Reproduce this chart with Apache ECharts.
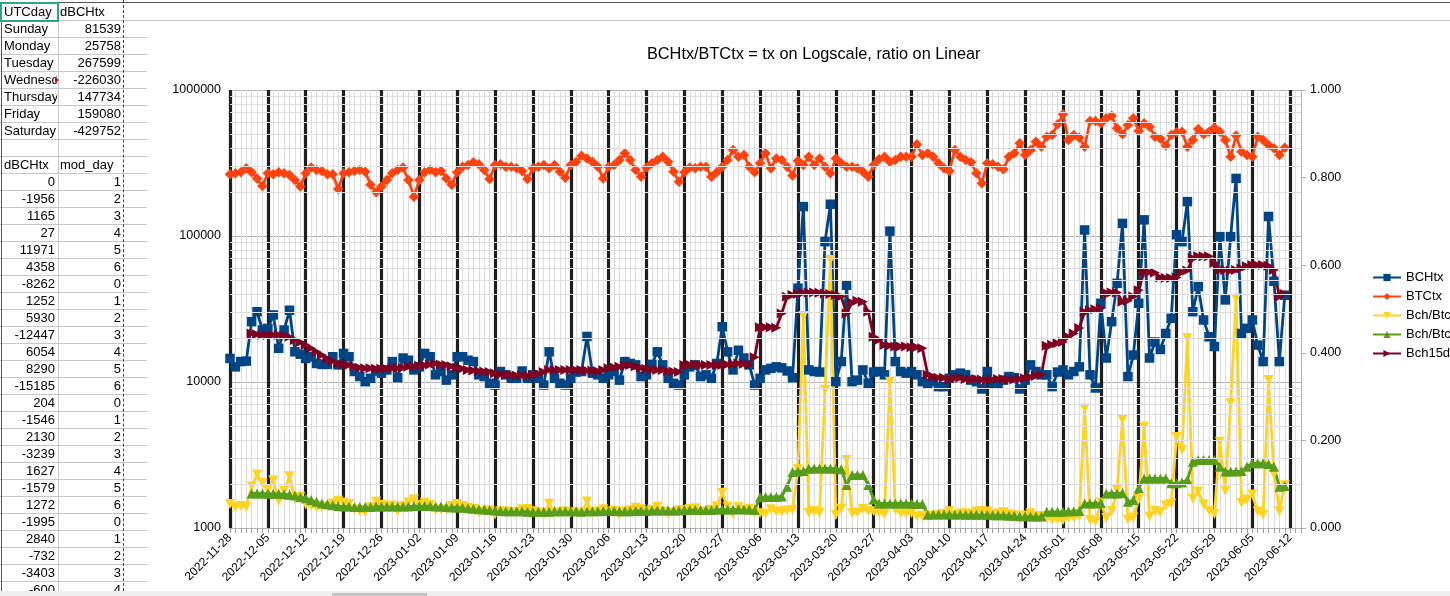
<!DOCTYPE html>
<html><head><meta charset="utf-8">
<script src="https://cdn.jsdelivr.net/npm/echarts@6/dist/echarts.min.js"></script>
<style>
html,body{margin:0;padding:0;background:#fff;width:1450px;height:596px;overflow:hidden;font-family:"Liberation Sans",Arial,sans-serif;}
#chart{position:absolute;left:0;top:0;width:1450px;height:596px;z-index:1;}
#sheet{position:absolute;left:0;top:0;width:1450px;height:596px;z-index:2;pointer-events:none;}
</style>
</head><body>
<div id="chart"></div>
<div id="sheet"></div>
<script>
// ---------- spreadsheet data ----------
const dayNames = ['Sunday','Monday','Tuesday','Wednesday','Thursday','Friday','Saturday'];
const dayTotals = [81539, 25758, 267599, -226030, 147734, 159080, -429752];
const dBCHtxCol = [0,-1956,1165,27,11971,4358,-8262,1252,5930,-12447,6054,8290,-15185,204,-1546,2130,-3239,1627,-1579,1272,-1995,2840,-732,-3403,-600];
const modDayCol = [1,2,3,4,5,6,0,1,2,3,4,5,6,0,1,2,3,4,5,6,0,1,2,3,4];

// ---------- chart data (one value per day from 2022-11-28) ----------
const startDay = '2022-11-28';
const dayCount = 199;
const seriesNames = ['BCHtx','BTCtx','Bch/Btc ratio','Bch/Btc 7d avg','Bch15d avg'];
const bchTx = [
14500,12700,13800,13900,25900,30300,22700,
23300,28800,17000,22700,31000,16100,15500,
14500,14900,13400,13200,13200,14900,13100,
15700,14900,11800,10900,10050,10600,11900,
11500,12100,13800,10700,14600,14100,12100,
12700,15700,14900,11200,11800,10300,11200,
14900,14900,14100,13800,11200,10900,9800,
9530,11800,11200,10600,10600,11900,10600,
11200,10600,9530,16100,10600,9800,9530,
10600,11700,11800,20500,11500,11200,10600,
11200,11800,10300,13800,13400,13100,10900,
11200,13200,16100,13100,10600,9800,9530,
11200,12700,13100,10900,11200,10600,13400,
23900,16100,12100,16500,14600,13100,9530,
10600,12100,12400,12700,12500,11900,10700,
43900,159000,12100,11800,11700,91400,165000,
10050,13800,46000,10050,10300,12100,9800,
11700,11800,11200,108000,13800,11800,11500,
11800,11200,10050,9800,10050,9300,9300,
10600,11200,11500,11200,10300,10050,8950,
11800,9800,9800,10300,10900,10700,8950,
10300,13100,11800,11200,11200,9300,11700,
12100,11200,11800,12700,110000,11200,9100,
34600,14600,25900,47400,122000,10900,15300,
34600,129000,14600,18800,16700,21500,27300,
102000,91400,172000,30300,45000,26600,20400,
17500,99000,36500,99000,248000,21500,23300,
26600,17900,13800,136000,49000,13800,39300];
const btcTx = [
265000,269000,273000,291000,273000,248000,220000,
269000,265000,273000,269000,262000,242000,218000,
269000,294000,283000,279000,265000,265000,210000,
269000,273000,279000,283000,276000,224000,199000,
218000,242000,269000,283000,294000,242000,186000,
242000,273000,283000,273000,279000,248000,224000,
273000,298000,306000,320000,310000,283000,246000,
306000,310000,298000,298000,291000,279000,246000,
291000,298000,306000,291000,306000,276000,251000,
306000,323000,355000,340000,323000,298000,248000,
298000,306000,332000,369000,332000,283000,255000,
294000,315000,332000,349000,323000,276000,235000,
273000,294000,291000,298000,298000,255000,273000,
298000,332000,388000,349000,359000,298000,273000,
315000,369000,291000,340000,332000,298000,260000,
328000,306000,349000,306000,340000,298000,269000,
340000,315000,298000,298000,291000,276000,255000,
306000,336000,349000,323000,332000,349000,349000,
349000,425000,359000,369000,349000,315000,291000,
279000,388000,349000,332000,320000,269000,230000,
315000,310000,298000,287000,349000,369000,431000,
359000,388000,443000,409000,479000,492000,582000,
681000,455000,492000,471000,409000,614000,614000,
592000,640000,667000,546000,497000,576000,640000,
523000,592000,561000,479000,463000,416000,492000,
513000,518000,409000,455000,541000,497000,518000,
552000,518000,455000,349000,487000,378000,359000,
349000,479000,455000,420000,399000,359000,403000];
const ratio = [
0.0547,0.0472,0.0505,0.0478,0.0949,0.122,0.103,
0.0866,0.109,0.0623,0.0844,0.118,0.0665,0.0711,
0.0539,0.0507,0.0473,0.0473,0.0498,0.0562,0.0624,
0.0584,0.0546,0.0423,0.0385,0.0364,0.0473,0.0598,
0.0528,0.05,0.0513,0.0378,0.0497,0.0583,0.065,
0.0525,0.0575,0.0527,0.041,0.0423,0.0415,0.05,
0.0546,0.05,0.0461,0.0431,0.0361,0.0385,0.0398,
0.0311,0.0381,0.0376,0.0356,0.0364,0.0427,0.0431,
0.0385,0.0356,0.0311,0.0553,0.0346,0.0355,0.038,
0.0346,0.0362,0.0332,0.0603,0.0356,0.0376,0.0427,
0.0376,0.0386,0.031,0.0374,0.0404,0.0463,0.0427,
0.0381,0.0419,0.0485,0.0375,0.0328,0.0355,0.0406,
0.041,0.0432,0.045,0.0366,0.0376,0.0416,0.0491,
0.0802,0.0485,0.0312,0.0473,0.0407,0.044,0.0349,
0.0337,0.0328,0.0426,0.0374,0.0377,0.0399,0.0412,
0.134,0.484,0.0347,0.0386,0.0344,0.315,0.612,
0.0296,0.0438,0.155,0.0337,0.0354,0.0438,0.0384,
0.0382,0.0351,0.0321,0.334,0.0416,0.0338,0.033,
0.0338,0.0264,0.028,0.0266,0.0288,0.0295,0.032,
0.038,0.0289,0.033,0.0337,0.0322,0.0374,0.0389,
0.0375,0.0316,0.0329,0.0359,0.0312,0.029,0.0208,
0.0287,0.0338,0.0266,0.0274,0.0234,0.0189,0.0201,
0.0178,0.0246,0.024,0.027,0.273,0.0182,0.0148,
0.0584,0.0228,0.0388,0.0868,0.247,0.0189,0.0239,
0.0662,0.231,0.026,0.0392,0.0361,0.0517,0.0555,
0.208,0.178,0.433,0.0666,0.0832,0.0535,0.0394,
0.0317,0.197,0.085,0.285,0.524,0.0569,0.0649,
0.0762,0.0374,0.0303,0.338,0.123,0.0384,0.0975];
const ratioAvg = [
null,null,null,null,0.079,0.079,0.079,
0.078,0.078,0.078,0.077,0.076,0.074,0.071,
0.068,0.064,0.060,0.056,0.054,0.052,0.050,
0.049,0.049,0.048,0.048,0.048,0.048,0.049,
0.049,0.049,0.049,0.049,0.049,0.049,0.050,
0.050,0.050,0.050,0.049,0.049,0.048,0.047,
0.047,0.046,0.045,0.044,0.043,0.042,0.041,
0.040,0.039,0.038,0.038,0.038,0.038,0.037,
0.037,0.037,0.037,0.037,0.038,0.038,0.038,
0.038,0.038,0.037,0.038,0.038,0.038,0.039,
0.039,0.039,0.038,0.038,0.038,0.039,0.039,
0.039,0.040,0.040,0.040,0.040,0.040,0.040,
0.041,0.041,0.041,0.041,0.041,0.041,0.042,
0.042,0.042,0.042,0.043,0.042,0.042,0.041,
0.070,0.071,0.071,0.071,0.072,0.094,0.128,
0.129,0.130,0.135,0.136,0.136,0.136,0.136,
0.135,0.134,0.098,0.121,0.121,0.121,0.098,
0.065,0.056,0.056,0.056,0.056,0.056,0.056,
0.056,0.055,0.055,0.030,0.031,0.031,0.031,
0.031,0.031,0.031,0.030,0.030,0.030,0.030,
0.030,0.029,0.029,0.029,0.028,0.028,0.027,
0.027,0.026,0.026,0.026,0.037,0.037,0.037,
0.037,0.038,0.038,0.039,0.056,0.056,0.056,
0.057,0.079,0.079,0.079,0.080,0.060,0.064,
0.091,0.113,0.113,0.113,0.113,0.113,0.102,
0.102,0.104,0.110,0.151,0.155,0.155,0.155,
0.155,0.140,0.129,0.129,0.129,0.130,0.140,
0.148,0.148,0.148,0.146,0.140,0.094,0.096];
const bch15d = [
null,null,null,null,21500,21200,21000,
21000,21000,21000,20700,20400,19400,18700,
17900,17000,16100,15300,14500,13900,13400,
13200,13100,12800,12500,12400,12400,12300,
12300,12300,12400,12400,12500,12700,12800,
12900,13000,13200,13400,13200,13100,12800,
12500,12300,12100,12000,11900,11800,11700,
11500,11300,11200,11200,11100,11100,11100,
11200,11400,11700,12100,12100,12100,12100,
12100,12100,12100,12000,12000,11900,12100,
12400,12600,12700,12900,13100,12800,12500,
12300,12100,12100,12100,11900,11800,11700,
13100,13200,13200,13100,13100,13100,13100,
13100,13200,13300,13400,13300,13200,14800,
23700,23700,23700,23500,29500,38400,39500,
40000,40800,41000,41100,40800,40400,40000,
39500,38500,29500,35100,36000,35500,30300,
20400,19400,17900,17700,17500,17500,17500,
17300,17300,17000,11200,10900,10700,10700,
10400,10600,10700,10500,10400,10500,10400,
10300,10400,10500,10500,10400,10400,10500,
10600,10800,11000,11200,17700,18000,18400,
18800,20400,21500,23400,30300,31000,31500,
32000,40800,41000,41000,35400,36000,38500,
42500,57300,56500,56000,52000,51600,51600,
52000,56500,58000,70600,72600,72600,72600,
65300,58500,58500,57800,58500,60000,62000,
63400,63400,63400,62500,58500,38400,40000];
const logMinorTicks = [2000,3000,4000,5000,6000,7000,8000,9000,
  20000,30000,40000,50000,60000,70000,80000,90000,
  200000,300000,400000,500000,600000,700000,800000,900000];
const titleText = 'BCHtx/BTCtx = tx on Logscale, ratio on Linear';

// ---------- spreadsheet drawing ----------
(function () {
  const sheet = document.getElementById('sheet');
  function add(text, style) {
    const d = document.createElement('div');
    d.style.cssText = style; d.textContent = text; sheet.appendChild(d); return d;
  }
  function cell(text, col, row, align) {
    const left = col === 0 ? 2 : 58;
    const width = col === 0 ? 56 : 66;
    const pad = align === 'right' ? 'padding-right:3px;' : 'padding-left:2px;';
    add(String(text), 'position:absolute;left:' + left + 'px;top:' + (3 + 17 * row) + 'px;width:' + (width - 3) + 'px;height:17px;line-height:17px;font-size:13px;color:#000;white-space:nowrap;overflow:hidden;text-align:' + align + ';' + pad);
  }
  add('', 'position:absolute;left:0;top:2px;width:1450px;height:1px;background:#555;');
  add('', 'position:absolute;left:0;top:20px;width:1450px;height:1px;background:#c8c8c8;');
  for (let r = 1; r <= 34; r++) {
    add('', 'position:absolute;left:0;top:' + (20 + 17 * r) + 'px;width:147px;height:1px;background:#c8c8c8;');
  }
  add('', 'position:absolute;left:58px;top:3px;width:1px;height:588px;background:#c8c8c8;');
  add('', 'position:absolute;left:123px;top:0;width:0;height:591px;border-left:1px dashed #444;');
  add('', 'position:absolute;left:1px;top:3px;width:1px;height:588px;background:#555;');
  cell('UTCday', 0, 0, 'left'); cell('dBCHtx', 1, 0, 'left');
  for (let i = 0; i < dayNames.length; i++) {
    cell(dayNames[i], 0, 1 + i, 'left');
    cell(dayTotals[i], 1, 1 + i, 'right');
  }
  cell('dBCHtx', 0, 9, 'left'); cell('mod_day', 1, 9, 'left');
  for (let i = 0; i < dBCHtxCol.length; i++) {
    cell(dBCHtxCol[i], 0, 10 + i, 'right');
    cell(modDayCol[i], 1, 10 + i, 'right');
  }
  add('', 'position:absolute;left:55px;top:77px;width:0;height:0;border-top:3px solid transparent;border-bottom:3px solid transparent;border-left:4px solid #e00000;');
  add('', 'position:absolute;left:0;top:2px;width:55px;height:16px;border:2px solid #2ea58a;');
  add('', 'position:absolute;left:0;top:591px;width:1450px;height:5px;background:#eeeeee;');
  add('', 'position:absolute;left:332px;top:593px;width:95px;height:3px;background:#c4c4c4;');
})();

// ---------- chart ----------
const dates = [];
(function () {
  const t0 = Date.parse(startDay + 'T00:00:00Z');
  for (let i = 0; i < dayCount; i++) dates.push(new Date(t0 + i * 86400000).toISOString().slice(0, 10));
})();

const chart = echarts.init(document.getElementById('chart'), null, { renderer: 'canvas' });
const FONT = 'Liberation Sans';
function lineSeries(name, data, color, symbol, size, rotate, yIndex) {
  return {
    name: name, type: 'line', data: data, xAxisIndex: 0, yAxisIndex: yIndex,
    symbol: symbol, symbolSize: size, symbolRotate: rotate, showSymbol: true, showAllSymbol: true,
    lineStyle: { color: color, width: 2.8 }, itemStyle: { color: color },
    connectNulls: false, z: 3
  };
}
chart.setOption({
  animation: false,
  backgroundColor: 'transparent',
  textStyle: { fontFamily: FONT },
  title: {
    text: titleText, left: 647, top: 47, padding: 0,
    textStyle: { fontSize: 16.3, fontWeight: 'normal', color: '#000', fontFamily: FONT }
  },
  legend: {
    data: seriesNames, orient: 'vertical', left: 1372, top: 270, padding: 0,
    itemWidth: 28, itemHeight: 9, itemGap: 4, selectedMode: false,
    textStyle: { fontSize: 13, color: '#000', fontFamily: FONT, lineHeight: 15 }
  },
  grid: { left: 230, right: 149, top: 90, bottom: 68, containLabel: false },
  xAxis: [{
    type: 'category', data: dates, boundaryGap: false, z: 1,
    axisLine: { show: true, lineStyle: { color: '#b3b3b3', width: 1 } },
    axisTick: { show: true, interval: 0, length: 5, lineStyle: { color: '#a0a0a0' } },
    axisLabel: { interval: function (i) { return i % 7 === 0; }, rotate: 45, fontSize: 12, color: '#000', margin: 8, fontFamily: FONT },
    splitLine: { show: true, interval: function (i) { return i % 7 === 0; }, lineStyle: { color: '#1e1e1e', width: 3.2 } }
  }, {
    type: 'category', data: dates, boundaryGap: false, position: 'top', z: 0,
    axisLine: { show: false }, axisTick: { show: false }, axisLabel: { show: false },
    splitLine: { show: true, interval: function (i) { return i % 7 !== 0; }, lineStyle: { color: '#dcdcdc', width: 1 } }
  }],
  yAxis: [{
    type: 'log', logBase: 10, min: 1000, max: 1000000, position: 'left', z: 0,
    axisLine: { show: true, lineStyle: { color: '#b3b3b3' } },
    axisTick: { show: false },
    axisLabel: { fontSize: 12.5, color: '#000', margin: 9, fontFamily: FONT, formatter: function (v) { return String(Math.round(v)); } },
    splitLine: { show: true, lineStyle: { color: '#b3b3b3', width: 1 } }
  }, {
    type: 'value', min: 0, max: 1, interval: 0.2, position: 'right',
    axisLine: { show: true, lineStyle: { color: '#b3b3b3' } },
    axisTick: { show: true, length: 5, inside: false, lineStyle: { color: '#b3b3b3' } },
    axisLabel: { fontSize: 12.5, color: '#000', margin: 9, fontFamily: FONT, formatter: function (v) { return v.toFixed(3); } },
    splitLine: { show: false }
  }],
  series: [
    {
      name: '_minorgrid', type: 'line', data: [], xAxisIndex: 0, yAxisIndex: 0, silent: true, z: 0,
      markLine: {
        silent: true, symbol: ['none', 'none'], label: { show: false }, animation: false,
        lineStyle: { color: '#dedede', width: 1, type: 'solid' },
        data: logMinorTicks.map(function (v) { return { yAxis: v }; })
      }
    },
    lineSeries(seriesNames[0], bchTx, '#004586', 'rect', 9.5, 0, 0),
    lineSeries(seriesNames[1], btcTx, '#ff420e', 'diamond', 10.5, 0, 0),
    lineSeries(seriesNames[2], ratio, '#ffd320', 'triangle', 10, 180, 1),
    lineSeries(seriesNames[3], ratioAvg, '#579d1c', 'triangle', 10, 0, 1),
    lineSeries(seriesNames[4], bch15d, '#7e0021', 'triangle', 10, -90, 0)
  ]
});
</script>
</body></html>
